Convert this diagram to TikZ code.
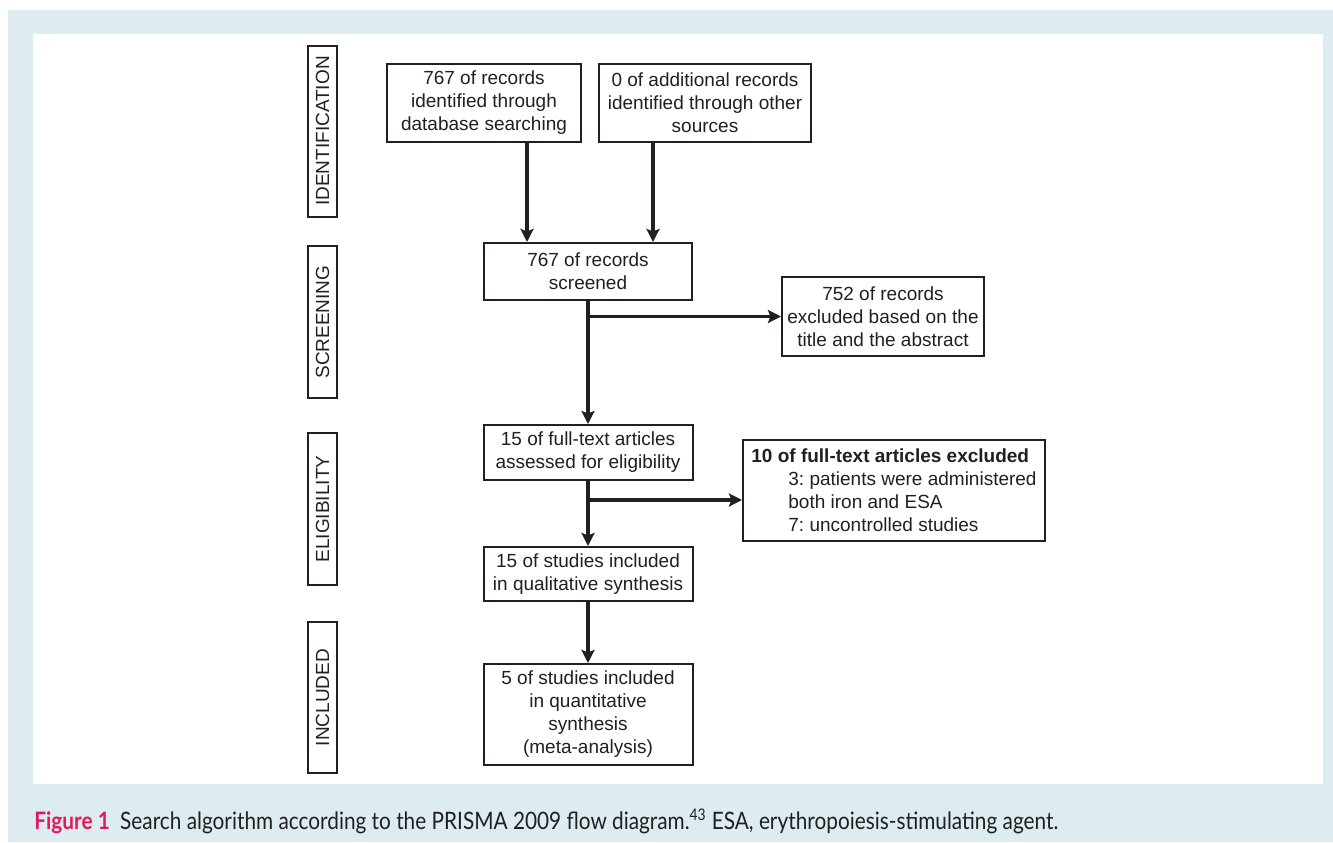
\documentclass[tikz,border=0pt]{standalone}
\usepackage{fontspec}
\usepackage{graphicx}
\setmainfont{Liberation Sans}
\newfontfamily\capfont{Lato}
\usetikzlibrary{positioning,arrows.meta}
\definecolor{panelBlue}{HTML}{DCECF1}
\definecolor{inkDark}{HTML}{231F20}
\definecolor{figRed}{HTML}{E2195B}
\tikzset{
  node distance=8mm and 12mm,
  boxfont/.style={font=\fontsize{9.5}{11.5}\selectfont\frenchspacing, text=inkDark},
  stage/.style={draw=inkDark, line width=1pt, boxfont, rotate=90,
                minimum height=14.5pt, inner sep=0pt},
  rec/.style={draw=inkDark, line width=1pt, boxfont, align=center,
              fill=white, inner sep=2pt},
  flow/.style={-{Stealth[length=6.5pt, width=6.5pt, inset=1.2pt]}, line width=1.7pt, inkDark},
}
\begin{document}
\begin{tikzpicture}[x=0.5pt, y=-0.5pt]
  % panel and margins
  \fill[white] (0,0) rectangle (1333,842);
  \fill[panelBlue] (8,10) rectangle (1333,842);
  \fill[white] (33,34) rectangle (1323,784);
  \useasboundingbox (0,0) rectangle (1333,842);

  % stage labels
  \node[stage, minimum width=85.5pt] (identStage) at (322.5,131) {IDENTIFICATION};
  \node[stage, minimum width=76pt] (screenStage) at (322.5,322) {SCREENING};
  \node[stage, minimum width=76pt] (eligStage) at (322.5,509) {ELIGIBILITY};
  \node[stage, minimum width=75.5pt] (inclStage) at (322.5,697.5) {INCLUDED};

  % main chain
  \node[rec, minimum width=97pt, minimum height=39pt] (dbRec) at (484,103)
    {767 of records\\identified through\\database searching};
  \node[rec, minimum width=106pt, minimum height=39pt] (otherRec) at (705,103)
    {0 of additional records\\identified through other\\sources};
  \node[rec, minimum width=104pt, minimum height=28.5pt] (screened) at (588,271.5)
    {767 of records\\screened};
  \node[rec, minimum width=104.5pt, minimum height=27.5pt, below=61.5pt of screened] (fullText)
    {15 of full-text articles\\assessed for eligibility};
  \node[rec, minimum width=104.5pt, minimum height=27pt, below=32.5pt of fullText] (qualSyn)
    {15 of studies included\\in qualitative synthesis};
  \node[rec, minimum width=104.5pt, minimum height=50.5pt, below=30.5pt of qualSyn] (quantSyn)
    {5 of studies included\\in quantitative\\synthesis\\(meta-analysis)};

  % exclusions
  \node[rec, minimum width=101pt, minimum height=39.5pt] (excl1) at (883,316.5)
    {752 of records\\excluded based on the\\title and the abstract};
  \node[rec, align=left, minimum width=151pt, minimum height=50.5pt] (excl2) at (894,490.5)
    {\textbf{10 of full-text articles excluded}\\
     \hspace*{18.5pt}3: patients were administered\\
     \hspace*{18.5pt}both iron and ESA\\
     \hspace*{18.5pt}7: uncontrolled studies};

  % connectors
  \coordinate (inDb) at ([xshift=-30.5pt]screened.north);
  \coordinate (inOther) at ([xshift=32.5pt]screened.north);
  \coordinate (toExcl2) at ([yshift=-4.75pt]excl2.west);
  \draw[flow] (inDb |- dbRec.south) -- (inDb);
  \draw[flow] (inOther |- otherRec.south) -- (inOther);
  \draw[flow] (screened) -- (fullText);
  \draw[flow] (screened.south |- excl1.west) -- (excl1.west);
  \draw[flow] (fullText) -- (qualSyn);
  \draw[flow] (fullText.south |- toExcl2) -- (toExcl2);
  \draw[flow] (qualSyn) -- (quantSyn);

  % caption
  \node[anchor=base west, inner sep=0pt, text=inkDark] (figCaption) at (34,829)
    {\resizebox{512pt}{\height}{\capfont\fontsize{12}{14}\selectfont
     \textcolor{figRed}{\bfseries Figure 1}\enspace Search algorithm according to the
     PRISMA 2009 flow diagram.\textsuperscript{43} ESA, erythropoiesis-stimulating agent.}};
\end{tikzpicture}
\end{document}
